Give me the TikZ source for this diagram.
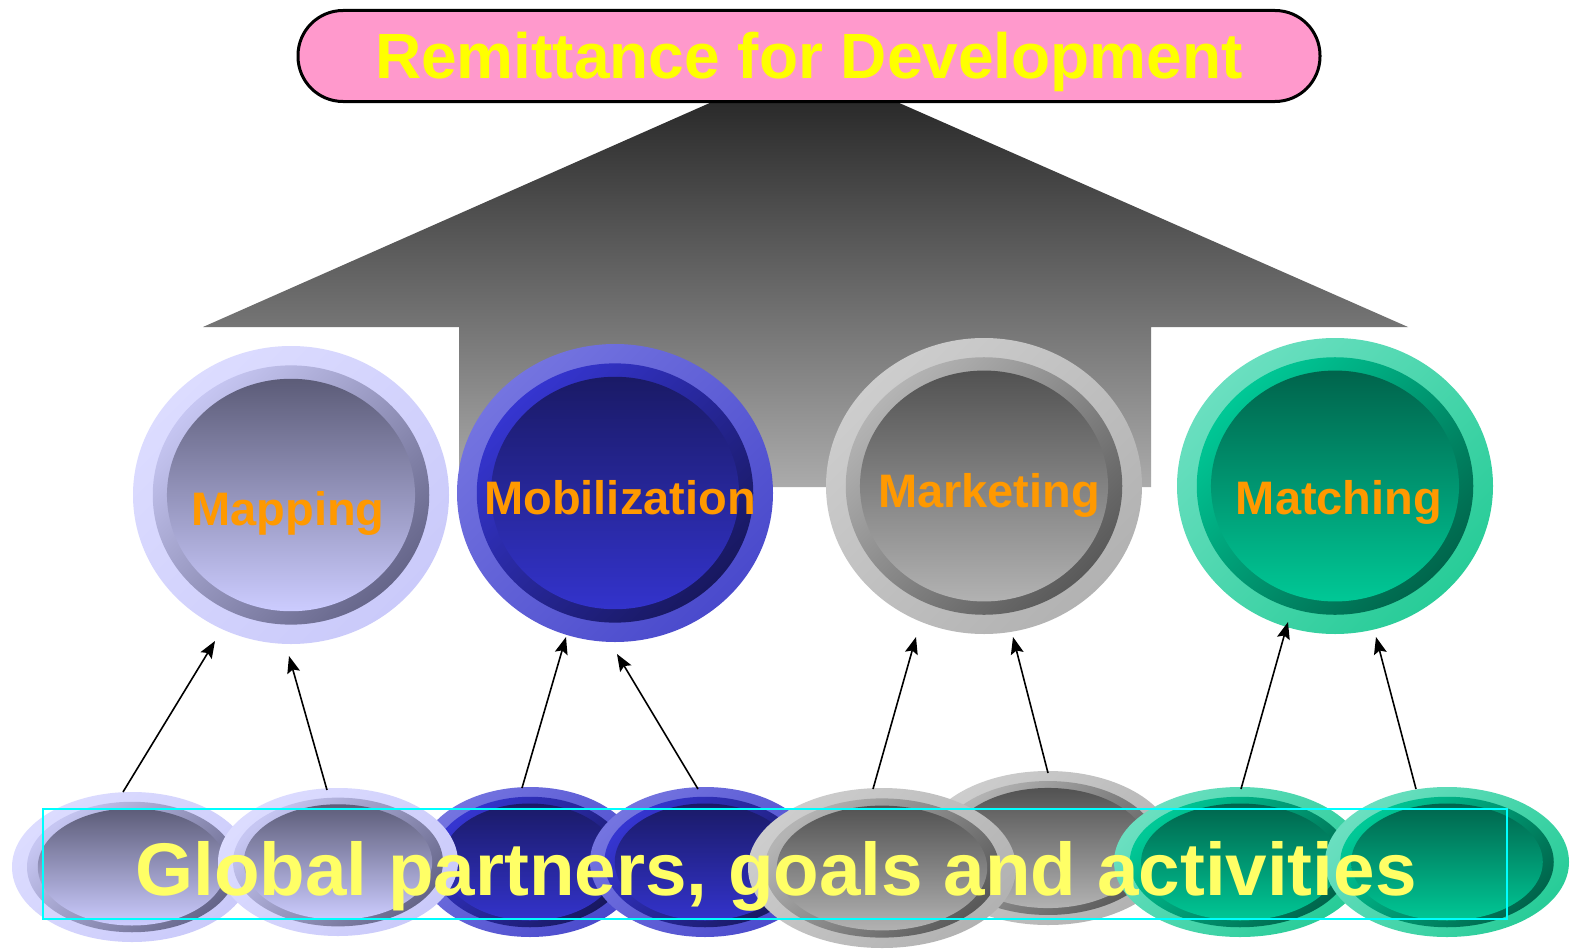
\documentclass[tikz,border=0pt]{standalone}
\usepackage{fontspec}
\setmainfont{Liberation Sans}
\usetikzlibrary{arrows.meta}
\definecolor{pinkT}{HTML}{FF99CC}
\definecolor{ylwT}{HTML}{FFFF00}
\definecolor{ylwB}{HTML}{FFFF66}
\definecolor{orngL}{HTML}{FF9900}
\definecolor{cyanR}{HTML}{00FFFF}
\definecolor{arTop}{HTML}{2A2A2A}
\definecolor{arMid}{HTML}{7C7C7C}
\definecolor{arBot}{HTML}{ABABAB}
% lavender
\definecolor{lavO1}{HTML}{DCDCFF}\definecolor{lavO2}{HTML}{CACAFA}
\definecolor{lavM1}{HTML}{C6C6F2}\definecolor{lavM2}{HTML}{66668A}
\definecolor{lavI1}{HTML}{5C5C78}\definecolor{lavI2}{HTML}{CCCCFF}
% blue
\definecolor{bluO1}{HTML}{7474E0}\definecolor{bluO2}{HTML}{4A4ACC}
\definecolor{bluM1}{HTML}{3535D0}\definecolor{bluM2}{HTML}{181860}
\definecolor{bluI1}{HTML}{1A1A66}\definecolor{bluI2}{HTML}{3333CC}
% gray
\definecolor{gryO1}{HTML}{CDCDCD}\definecolor{gryO2}{HTML}{B2B2B2}
\definecolor{gryM1}{HTML}{B4B4B4}\definecolor{gryM2}{HTML}{5A5A5A}
\definecolor{gryI1}{HTML}{525252}\definecolor{gryI2}{HTML}{B2B2B2}
% green
\definecolor{grnO1}{HTML}{6ADFC0}\definecolor{grnO2}{HTML}{28CC98}
\definecolor{grnM1}{HTML}{00C896}\definecolor{grnM2}{HTML}{00664C}
\definecolor{grnI1}{HTML}{00644C}\definecolor{grnI2}{HTML}{00C896}
\tikzset{
  lav out/.style={top color=lavO1,bottom color=lavO2,shading angle=45},
  lav mid/.style={top color=lavM1,bottom color=lavM2,shading angle=45},
  lav in/.style={top color=lavI1,bottom color=lavI2},
  blu out/.style={top color=bluO1,bottom color=bluO2,shading angle=45},
  blu mid/.style={top color=bluM1,bottom color=bluM2,shading angle=45},
  blu in/.style={top color=bluI1,bottom color=bluI2},
  gry out/.style={top color=gryO1,bottom color=gryO2,shading angle=45},
  gry mid/.style={top color=gryM1,bottom color=gryM2,shading angle=45},
  gry in/.style={top color=gryI1,bottom color=gryI2},
  grn out/.style={top color=grnO1,bottom color=grnO2,shading angle=45},
  grn mid/.style={top color=grnM1,bottom color=grnM2,shading angle=45},
  grn in/.style={top color=grnI1,bottom color=grnI2},
  lbl/.style={font=\fontsize{47}{50}\selectfont\bfseries, text=orngL, inner sep=0pt, anchor=base},
  arr/.style={-{Stealth[length=17pt,width=13pt,inset=3pt]}, line width=1.6pt, black},
  titlebox/.style={draw=black, line width=3pt, fill=pinkT, rounded corners=45pt,
     minimum width=1022pt, minimum height=91pt, inner sep=0pt,
     font=\fontsize{64}{70}\selectfont\bfseries, text=ylwT, text height=46pt, text depth=0pt},
  bigarrow/.style={top color=arTop, middle color=arMid, bottom color=arBot},
}
\newcommand\btn[6]{%
  \coordinate (#1) at (#2,#3);
  \path[#6 out] (#2,#3) ellipse [x radius=#4, y radius=#5];
  \path[#6 mid] (#2,#3) ellipse [x radius=0.875*#4, y radius=0.87*#5];
  \path[#6 in] (#2,#3) ellipse [x radius=0.785*#4, y radius=0.78*#5];
}
\begin{document}
\begin{tikzpicture}[x=1pt,y=-1pt]
\fill[white] (0,0) rectangle (1572,950);
\useasboundingbox (0,0) rectangle (1572,950);
% big arrow (its point is hidden under the title)
\path[bigarrow] (203,327) -- (712,102) -- (897,102) -- (1408,327) -- (1151,327) -- (1151,487)
   -- (459,487) -- (459,327) -- cycle;
% title
\node[titlebox] (title) at (809,56) {Remittance for Development};
% big buttons
\btn{map}{291}{495}{158}{149}{lav}
\btn{mob}{615}{493}{158}{149}{blu}
\btn{mkt}{984}{486}{158}{148}{gry}
\btn{mat}{1335}{486}{158}{148}{grn}
\node[lbl] (tmap) at (288,525) {Mapping};
\node[lbl] (tmob) at (620,514) {Mobilization};
\node[lbl] (tmkt) at (989,507) {Marketing};
\node[lbl] (tmat) at (1339,514) {Matching};
% small buttons
\btn{e1}{132}{867}{120}{75}{lav}
\btn{e3}{530}{862}{112}{75}{blu}
\btn{e2}{338}{862}{120}{74}{lav}
\btn{e4}{705}{862}{115}{75}{blu}
\btn{e6}{1048}{848}{127}{77}{gry}
\btn{e5}{882}{868}{134}{80}{gry}
\btn{e7}{1240}{862}{126}{75}{grn}
\btn{e8}{1447}{862}{122}{75}{grn}
% arrows
\coordinate (s1) at (123,792); \coordinate (t1) at (215,641);
\coordinate (s2) at (327,790); \coordinate (t2) at (289,656);
\coordinate (s3) at (522,788); \coordinate (t3) at (566,637);
\coordinate (s4) at (698,789); \coordinate (t4) at (617,654);
\coordinate (s5) at (873,789); \coordinate (t5) at (916,637);
\coordinate (s6) at (1048,773); \coordinate (t6) at (1013,637);
\coordinate (s7) at (1241,789); \coordinate (t7) at (1288,622);
\coordinate (s8) at (1416,789); \coordinate (t8) at (1376,637);
\foreach \i in {1,...,8} { \draw[arr] (s\i) -- (t\i); }
% bottom banner
\node[draw=cyanR, line width=2pt, minimum width=1464pt, minimum height=110pt, inner sep=0pt] (band) at (775,864) {};
\node[font=\fontsize{74.6}{80}\selectfont\bfseries, text=ylwB, inner sep=0pt, anchor=base] (gp) at (776,895) {Global partners, goals and activities};
\end{tikzpicture}
\end{document}
